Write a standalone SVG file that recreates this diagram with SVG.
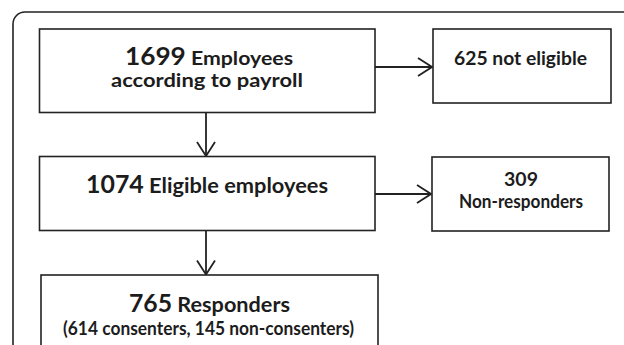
<svg xmlns="http://www.w3.org/2000/svg" width="624" height="345" viewBox="0 0 624 345">
<style>
.frame{fill:none;stroke:#222;stroke-width:1.6}
.box{fill:#fff;stroke:#222;stroke-width:1.6}
.conn{fill:none;stroke:#222;stroke-width:1.8}
text{font-family:Lato,"Open Sans","Liberation Sans",sans-serif;font-weight:bold;fill:#1c1c1c;text-anchor:middle}
.big{font-size:24px}
.mid{font-size:19.5px}
.sm{font-size:18px}
</style>
<defs>
<marker id="arr" viewBox="0 0 16 20" refX="15" refY="10" markerWidth="16" markerHeight="20" markerUnits="userSpaceOnUse" orient="auto">
<path d="M1,1 L15,10 L1,19" fill="none" stroke="#222" stroke-width="1.8"/>
</marker>
</defs>
<rect class="frame" x="13" y="12" width="640" height="360" rx="12" ry="12"/>
<g id="connectors">
<line class="conn" x1="375" y1="67" x2="432" y2="67" marker-end="url(#arr)"/>
<line class="conn" x1="206" y1="113" x2="206" y2="156" marker-end="url(#arr)"/>
<line class="conn" x1="375" y1="194" x2="431" y2="194" marker-end="url(#arr)"/>
<line class="conn" x1="206" y1="231" x2="206" y2="274.5" marker-end="url(#arr)"/>
</g>
<g id="n1">
<rect class="box" x="39.5" y="29" width="335.5" height="83.5"/>
<text x="209" y="64.5" textLength="168" lengthAdjust="spacingAndGlyphs"><tspan class="big">1699</tspan><tspan class="mid"> Employees</tspan></text>
<text class="mid" x="207" y="86.5" textLength="192" lengthAdjust="spacingAndGlyphs">according to payroll</text>
</g>
<g id="n2">
<rect class="box" x="433" y="29" width="178" height="74"/>
<text class="mid" x="520.5" y="65" textLength="133" lengthAdjust="spacingAndGlyphs">625 not eligible</text>
</g>
<g id="n3">
<rect class="box" x="39.5" y="156.5" width="335.5" height="74"/>
<text x="207" y="193" textLength="242" lengthAdjust="spacingAndGlyphs"><tspan class="big">1074</tspan><tspan class="mid" style="font-size:21px"> Eligible employees</tspan></text>
</g>
<g id="n4">
<rect class="box" x="432" y="157" width="177" height="74"/>
<text class="mid" x="521" y="186">309</text>
<text class="sm" x="521" y="208" textLength="124" lengthAdjust="spacingAndGlyphs">Non-responders</text>
</g>
<g id="n5">
<rect class="box" x="41" y="275" width="337" height="90"/>
<text x="209.5" y="312" textLength="161" lengthAdjust="spacingAndGlyphs"><tspan class="big">765</tspan><tspan class="mid" style="font-size:21px"> Responders</tspan></text>
<text class="sm" x="208.5" y="335" textLength="291" lengthAdjust="spacingAndGlyphs">(614 consenters, 145 non-consenters)</text>
</g>
</svg>
